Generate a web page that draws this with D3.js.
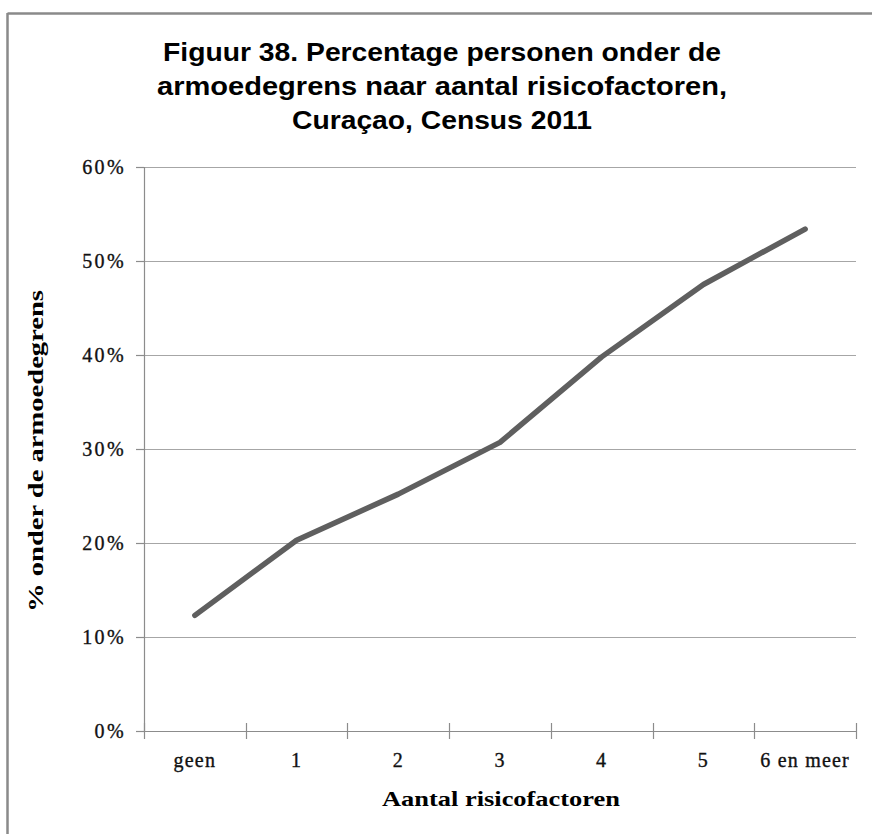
<!DOCTYPE html>
<html>
<head>
<meta charset="utf-8">
<script src="https://cdn.jsdelivr.net/npm/d3@7"></script>
<style>
  html, body { margin: 0; padding: 0; background: #fff; }
  svg { display: block; }
</style>
</head>
<body>
<svg id="chart" width="872" height="834"></svg>
<script>
// ---- data ----
const categories = ["geen", "1", "2", "3", "4", "5", "6 en meer"];
const values = [12.3, 20.3, 25.2, 30.7, 39.8, 47.5, 53.4];
const yTicks = [0, 10, 20, 30, 40, 50, 60];
const titleLines = ["Figuur 38. Percentage personen onder de",
                    "armoedegrens naar aantal risicofactoren,",
                    "Curaçao, Census 2011"];
const xTitle = "Aantal risicofactoren";
const yTitle = "% onder de armoedegrens";

// ---- layout ----
const W = 872, H = 834;
const plot = { left: 144, right: 856, top: 167, bottom: 731 };
const titleWidths = [558, 570, 300];
const svg = d3.select("#chart");

// frame (top & left edges visible)
svg.append("line").attr("x1", 7.5).attr("x2", W).attr("y1", 13.5).attr("y2", 13.5)
  .attr("stroke", "#8a8a8a").attr("stroke-width", 2.5);
svg.append("line").attr("x1", 7.5).attr("x2", 7.5).attr("y1", 13).attr("y2", H)
  .attr("stroke", "#8a8a8a").attr("stroke-width", 2.5);

// scales
const x = d3.scaleBand().domain(categories).range([plot.left, plot.right]).padding(0);
const y = d3.scaleLinear().domain([0, 60]).range([plot.bottom, plot.top]);

const gridColor = "#a6a6a6";
const axisColor = "#8c8c8c";

// gridlines
svg.append("g").selectAll("line").data(yTicks.filter(d => d > 0)).join("line")
  .attr("x1", plot.left).attr("x2", plot.right)
  .attr("y1", d => Math.round(y(d)) + 0.5).attr("y2", d => Math.round(y(d)) + 0.5)
  .attr("stroke", gridColor).attr("stroke-width", 1.2);

// y axis
const yAxis = d3.axisLeft(y).tickValues(yTicks).tickFormat(d => d + "%").tickSize(8).tickPadding(10);
const gy = svg.append("g").attr("transform", `translate(${plot.left},0)`).call(yAxis);
gy.select(".domain").attr("stroke", axisColor).attr("stroke-width", 1.2);
gy.selectAll(".tick line").attr("stroke", axisColor).attr("stroke-width", 1.2);
gy.selectAll(".tick text")
  .attr("font-family", "'Liberation Serif', 'Times New Roman', serif")
  .attr("font-size", 20).attr("letter-spacing", "2.4px").attr("fill", "#111")
  .attr("stroke", "#111").attr("stroke-width", 0.35);

// x axis
const gx = svg.append("g").attr("transform", `translate(0,${plot.bottom})`)
  .call(d3.axisBottom(x).tickSize(0).tickPadding(22));
gx.select(".domain").attr("stroke", axisColor).attr("stroke-width", 1.2);
gx.selectAll(".tick text")
  .attr("font-family", "'Liberation Serif', 'Times New Roman', serif")
  .attr("font-size", 20).attr("letter-spacing", "1.2px").attr("fill", "#111")
  .attr("stroke", "#111").attr("stroke-width", 0.35);
// category boundary ticks (crossing)
const bounds = categories.map(c => x(c)).concat([plot.right]);
svg.append("g").selectAll("line").data(bounds).join("line")
  .attr("x1", d => Math.round(d) + 0.5).attr("x2", d => Math.round(d) + 0.5)
  .attr("y1", plot.bottom - 8).attr("y2", plot.bottom + 8)
  .attr("stroke", axisColor).attr("stroke-width", 1.2);

// line
const line = d3.line().x((d, i) => x(categories[i]) + x.bandwidth() / 2).y(d => y(d));
svg.append("path").datum(values).attr("d", line)
  .attr("fill", "none").attr("stroke", "#5f5f5f").attr("stroke-width", 5.5)
  .attr("stroke-linecap", "round").attr("stroke-linejoin", "round");

// title
svg.append("g").selectAll("text").data(titleLines).join("text")
  .attr("x", 442).attr("y", (d, i) => 61 + i * 34)
  .attr("text-anchor", "middle")
  .attr("font-family", "'Liberation Sans', Arial, sans-serif")
  .attr("font-weight", "bold").attr("font-size", 26).attr("fill", "#000")
  .attr("textLength", (d, i) => titleWidths[i]).attr("lengthAdjust", "spacingAndGlyphs")
  .text(d => d);

// axis titles
svg.append("text").attr("x", 501).attr("y", 806).attr("text-anchor", "middle")
  .attr("font-family", "'Liberation Serif', 'Times New Roman', serif")
  .attr("font-weight", "bold").attr("font-size", 22).attr("fill", "#000")
  .attr("textLength", 238).attr("lengthAdjust", "spacingAndGlyphs")
  .text(xTitle);

svg.append("text").attr("transform", "translate(43,451) rotate(-90)")
  .attr("text-anchor", "middle")
  .attr("font-family", "'Liberation Serif', 'Times New Roman', serif")
  .attr("font-weight", "bold").attr("font-size", 22).attr("fill", "#000")
  .attr("textLength", 322).attr("lengthAdjust", "spacingAndGlyphs")
  .text(yTitle);
</script>
</body>
</html>
